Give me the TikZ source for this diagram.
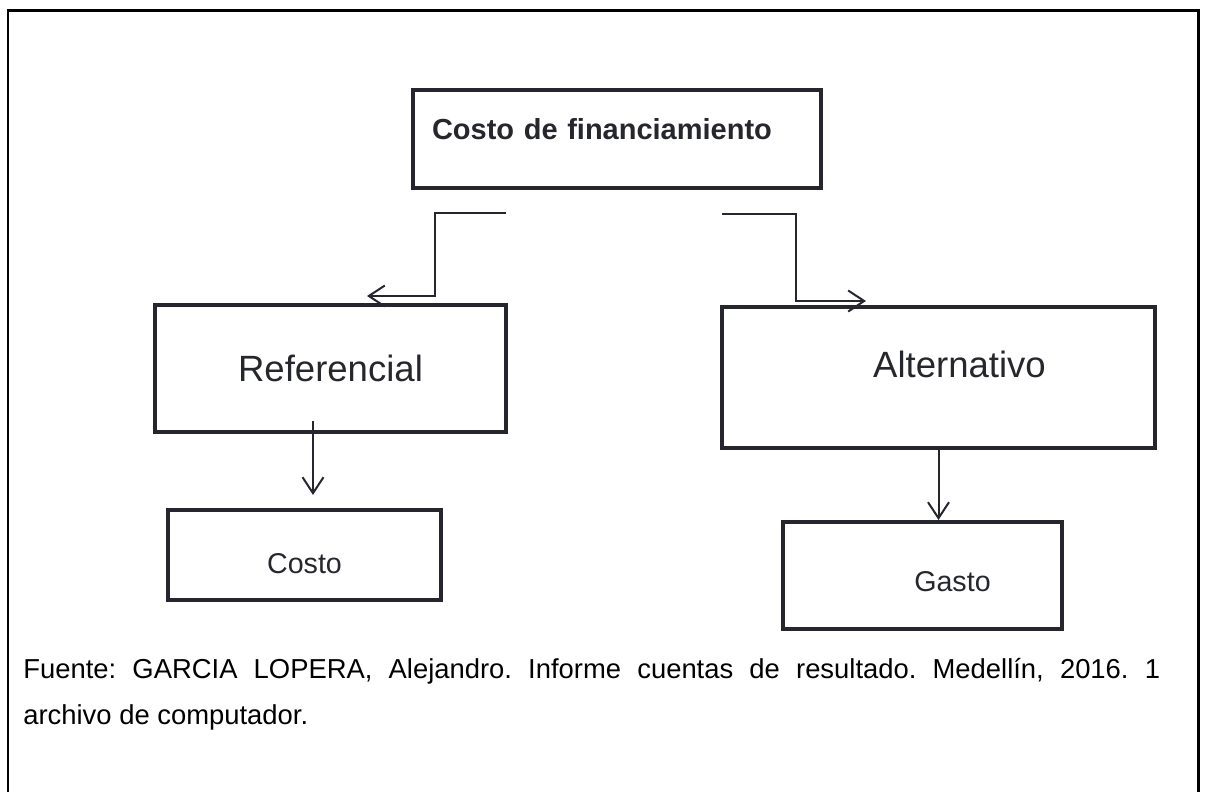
\documentclass[tikz,border=0pt]{standalone}
\usepackage{fontspec}
\setmainfont{Liberation Sans}
\usetikzlibrary{arrows.meta,positioning}
\definecolor{marco}{HTML}{25262E}
\definecolor{letra}{HTML}{26272D}

\begin{document}
\begin{tikzpicture}[x=0.02cm,y=-0.02cm,
	caja/.style={rectangle,draw=marco,line width=0.08cm,inner sep=0pt,text=letra},
	flecha/.style={draw=marco,line width=0.04cm,-{Straight Barb[length=0.32cm,width=0.42cm]}}]
	\useasboundingbox (0,0) rectangle (1205,792);
	\draw[line width=0.06cm] (8,10.5) rectangle (1198.5,830);
	% cajas
	\node[caja,minimum width=8.16cm,minimum height=1.96cm,inner xsep=0.38cm,text width=7.4cm,align=left,
	      text height=0.4cm,text depth=0.4cm,font=\fontsize{16.5}{20}\selectfont\bfseries] (financ) at (617,139) {Costo de financiamiento};
	\node[caja,minimum width=7.02cm,minimum height=2.54cm,font=\fontsize{20.8}{25}\selectfont] (refer) at (330.5,368.5) {Referencial};
	\node[caja,minimum width=8.66cm,minimum height=2.82cm,text height=0.5cm,text depth=0.5cm,
	      font=\fontsize{20.8}{25}\selectfont] (alter) at (938.5,377.5) {\hspace*{0.84cm}Alternativo};
	\node[caja,minimum width=5.46cm,minimum height=1.8cm,text height=0.72cm,text depth=0cm,
	      font=\fontsize{16.3}{20}\selectfont] (costo) at (304.5,555) {Costo};
	\node[caja,minimum width=5.58cm,minimum height=2.14cm,text height=0.64cm,text depth=0cm,
	      font=\fontsize{16.3}{20}\selectfont] (gasto) at (922.5,575.5) {\hspace*{1.2cm}Gasto};
	% flechas
	\coordinate (ai) at (506,213); \coordinate (af) at (367,296);
	\coordinate (bi) at (722,214); \coordinate (bf) at (866,301);
	\draw[flecha] (ai) -- ++(-71,0) |- (af);
	\draw[flecha] (bi) -- ++(74,0) |- (bf);
	\draw[flecha] ([xshift=-0.35cm,yshift=0.26cm]refer.south) -- ++(0,74);
	\draw[flecha] (alter.south) -- (alter.south |- gasto.north);
	% fuente
	\node[anchor=base west,inner sep=0pt,text width=22.74cm,align=justify,
	      font=\fontsize{15.6}{26.7}\selectfont\frenchspacing] (fuente) at (23,678)
	      {Fuente: GARCIA LOPERA, Alejandro. Informe cuentas de resultado. Medellín, 2016. 1\linebreak archivo de computador.};
\end{tikzpicture}
\end{document}
